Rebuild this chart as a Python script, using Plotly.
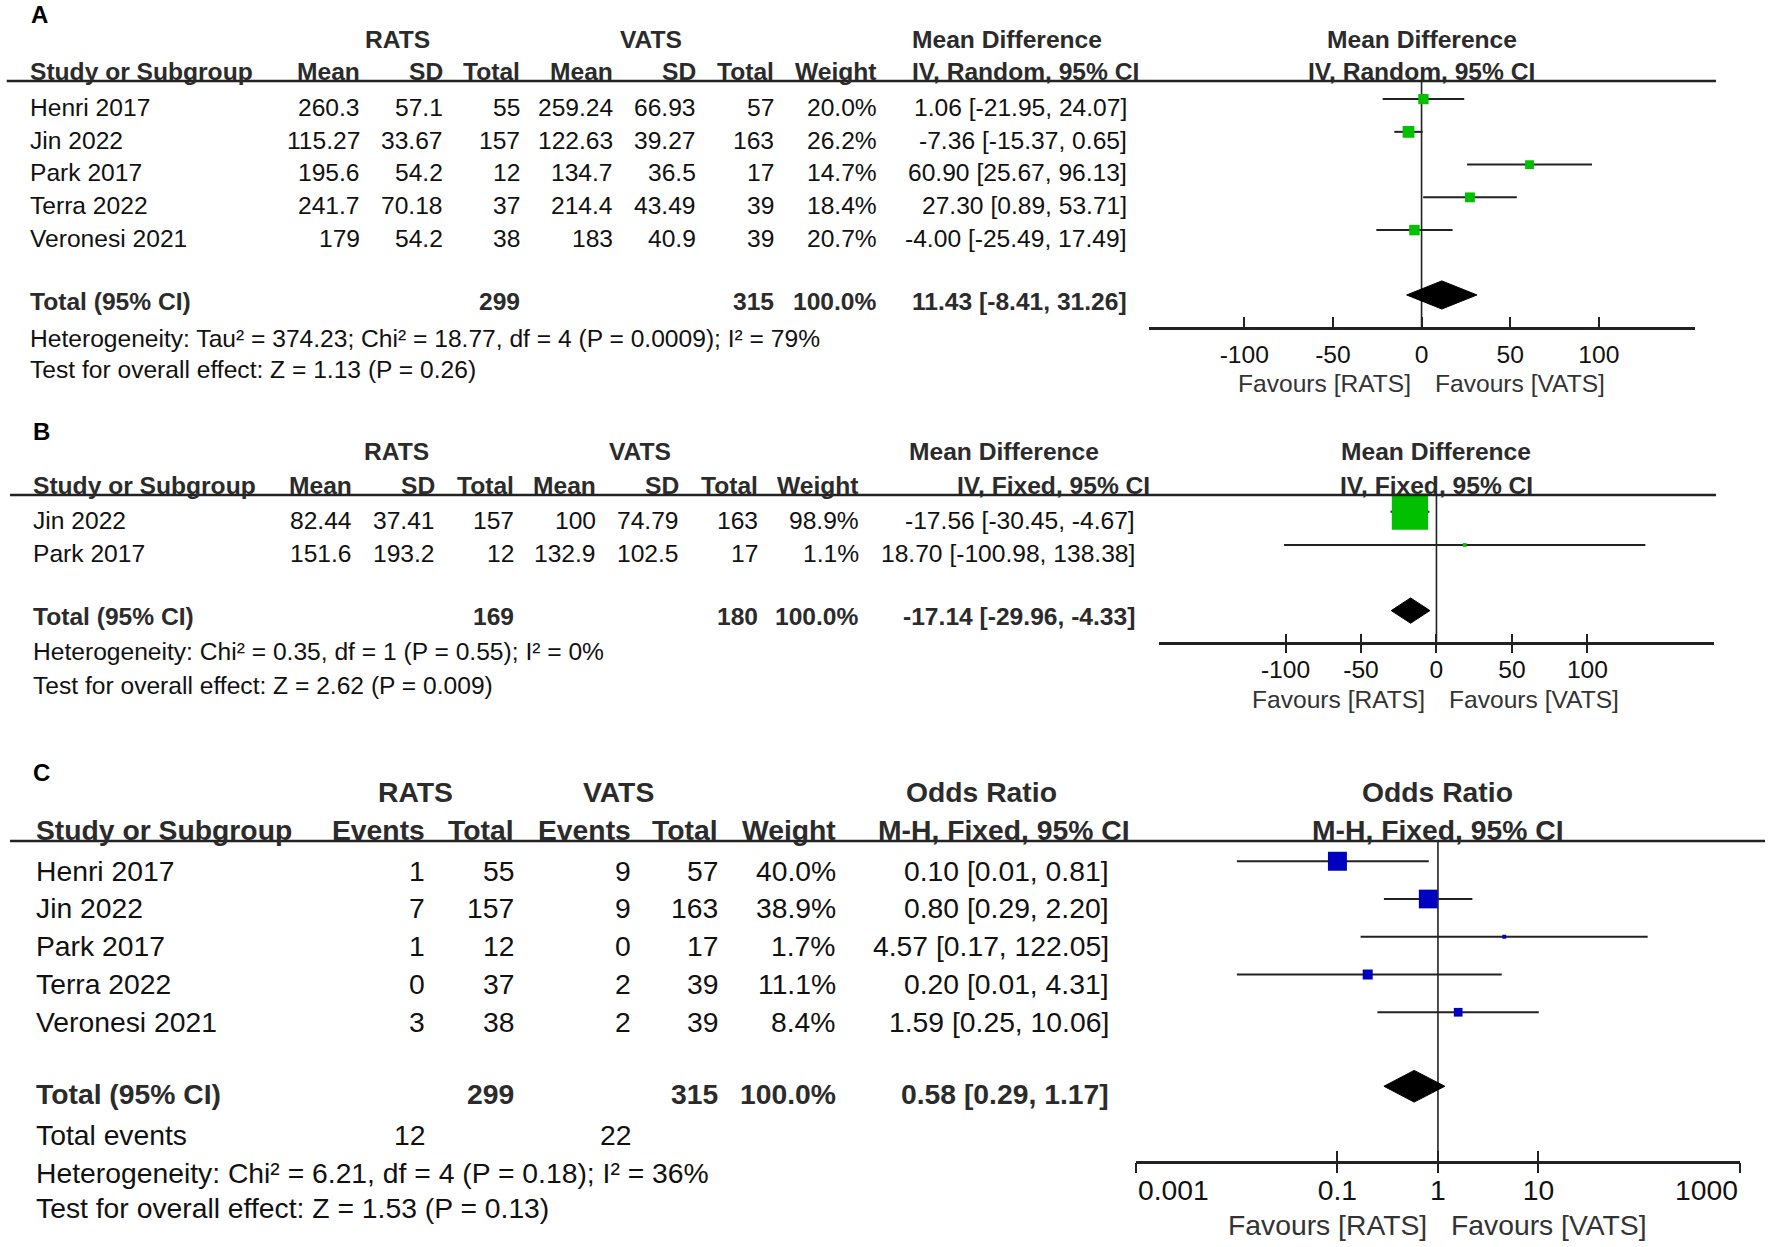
import numpy as np
import plotly.graph_objects as go

W, H = 1772, 1247
FONT = "Liberation Sans, Arial, Helvetica, sans-serif"
INK = "#111111"
BOLD_INK = "#2b2b2b"
FAV = "#333333"
RULE = "#222222"
GREEN = "rgb(0,192,0)"
BLUE = "rgb(0,0,192)"

# ---- A: mean difference, random effects ----
studies_a = ["Henri 2017", "Jin 2022", "Park 2017", "Terra 2022", "Veronesi 2021"]
rats_mean_a = [260.3, 115.27, 195.6, 241.7, 179]
rats_sd_a = [57.1, 33.67, 54.2, 70.18, 54.2]
rats_n_a = [55, 157, 12, 37, 38]
vats_mean_a = [259.24, 122.63, 134.7, 214.4, 183]
vats_sd_a = [66.93, 39.27, 36.5, 43.49, 40.9]
vats_n_a = [57, 163, 17, 39, 39]
weight_a = [20.0, 26.2, 14.7, 18.4, 20.7]
md_a = [1.06, -7.36, 60.90, 27.30, -4.00]
lo_a = [-21.95, -15.37, 25.67, 0.89, -25.49]
hi_a = [24.07, 0.65, 96.13, 53.71, 17.49]
total_a = [11.43, -8.41, 31.26]
total_n_a = [299, 315]
foot_a = ["Heterogeneity: Tau² = 374.23; Chi² = 18.77, df = 4 (P = 0.0009); I² = 79%",
          "Test for overall effect: Z = 1.13 (P = 0.26)"]

# ---- B: mean difference, fixed effect ----
studies_b = ["Jin 2022", "Park 2017"]
rats_mean_b = [82.44, 151.6]
rats_sd_b = [37.41, 193.2]
rats_n_b = [157, 12]
vats_mean_b = [100, 132.9]
vats_sd_b = [74.79, 102.5]
vats_n_b = [163, 17]
weight_b = [98.9, 1.1]
md_b = [-17.56, 18.70]
lo_b = [-30.45, -100.98]
hi_b = [-4.67, 138.38]
total_b = [-17.14, -29.96, -4.33]
total_n_b = [169, 180]
foot_b = ["Heterogeneity: Chi² = 0.35, df = 1 (P = 0.55); I² = 0%",
          "Test for overall effect: Z = 2.62 (P = 0.009)"]

# ---- C: odds ratio, fixed effect ----
studies_c = ["Henri 2017", "Jin 2022", "Park 2017", "Terra 2022", "Veronesi 2021"]
rats_ev_c = [1, 7, 1, 0, 3]
rats_n_c = [55, 157, 12, 37, 38]
vats_ev_c = [9, 9, 0, 2, 2]
vats_n_c = [57, 163, 17, 39, 39]
weight_c = [40.0, 38.9, 1.7, 11.1, 8.4]
or_c = [0.10, 0.80, 4.57, 0.20, 1.59]
lo_c = [0.01, 0.29, 0.17, 0.01, 0.25]
hi_c = [0.81, 2.20, 122.05, 4.31, 10.06]
total_c = [0.58, 0.29, 1.17]
total_n_c = [299, 315]
total_events_c = [12, 22]
foot_c = ["Heterogeneity: Chi² = 6.21, df = 4 (P = 0.18); I² = 36%",
          "Test for overall effect: Z = 1.53 (P = 0.13)"]

tick_md = [-100, -50, 0, 50, 100]
tick_or = [0.001, 0.1, 1, 10, 1000]
tick_or_text = ["0.001", "0.1", "1", "10", "1000"]

DY = -0.25  # squares sit a little above the text row

fig = go.Figure()
axes = {}


def name(a, k):
    return a if k == 1 else f"{a}{k}"


def fnum(v):
    return f"{v:g}"


def fci(e, l, h):
    return f"{e:.2f} [{l:.2f}, {h:.2f}]"


def note(k, x, row, s, anchor="left", bold=False, size=24, xref="paper", xshift=0, color=None):
    fig.add_annotation(x=x / W if xref == "paper" else x, y=row, xref=xref, yref=name("y", k),
                       text=f"<b>{s}</b>" if bold else s, showarrow=False,
                       xanchor=anchor, yanchor="middle", xshift=xshift,
                       font=dict(family=FONT, size=size,
                                 color=color or (BOLD_INK if bold else INK)))


def panel(k, g, letter, studies, cols, groups, heads, plot_heads, est, lo, hi, wts, total,
          foot, colour, ticks, log=False, tick_text=None):
    fs = g["fs"]
    n = len(studies)
    xa, ya = name("x", k), name("y", k)
    axes[name("yaxis", k)] = dict(
        domain=[1 - g["bot"] / H, 1 - g["top"] / H],
        range=[(g["bot"] - g["row0"]) / g["step"], (g["top"] - g["row0"]) / g["step"]],
        visible=False, fixedrange=True)

    # table text
    note(k, g["lx"], g["letter"], letter, bold=True, size=24, color="#000000")
    for label, cx in groups:
        note(k, cx, g["h1"], label, "center", True, fs)
    note(k, g["sx"], g["h2"], "Study or Subgroup", bold=True, size=fs)
    for head, rx, vals, tot in cols:
        note(k, rx, g["h2"], head, "right", True, fs)
        for i, v in enumerate(vals):
            note(k, rx, i, v, "right", size=fs)
        if tot is not None:
            note(k, rx, g["total"], tot, "right", True, fs)
    note(k, g["ci_h"], g["h1"], heads[0], bold=True, size=fs)
    note(k, g["ci_h2"], g["h2"], heads[1], bold=True, size=fs)
    for i, s in enumerate(studies):
        note(k, g["sx"], i, s, size=fs)
        note(k, g["ci_r"], i, fci(est[i], lo[i], hi[i]), "right", size=fs)
    note(k, g["sx"], g["total"], "Total (95% CI)", bold=True, size=fs)
    note(k, g["ci_r"], g["total"], fci(*total), "right", True, fs)
    for row, s in zip(g["foot"], foot):
        note(k, g["sx"], row, s, size=fs)

    fig.add_shape(type="line", xref="paper", yref=ya,
                  x0=g["rule_x"][0] / W, x1=g["rule_x"][1] / W, y0=g["rule"], y1=g["rule"],
                  line=dict(color=RULE, width=2.5))

    # forest plot
    null = 1 if log else 0
    fig.add_trace(go.Scatter(x=[null, null], y=[g["rule"], g["axis"]], mode="lines",
                             line=dict(color=RULE, width=1.6), xaxis=xa, yaxis=ya, hoverinfo="skip"))
    cx, cy = [], []
    for i in range(n):
        cx += [lo[i], hi[i], None]
        cy += [i + DY, i + DY, None]
    fig.add_trace(go.Scatter(x=cx, y=cy, mode="lines", line=dict(color=RULE, width=2),
                             xaxis=xa, yaxis=ya, hoverinfo="skip"))
    fig.add_trace(go.Scatter(x=est, y=[i + DY for i in range(n)], mode="markers",
                             marker=dict(symbol="square", color=colour, opacity=1,
                                         line=dict(width=0),
                                         size=[g["ksq"] * np.sqrt(w) for w in wts]),
                             xaxis=xa, yaxis=ya, hoverinfo="skip"))
    e, l, h = total
    r, d = g["total"] + g["ddy"], g["dia"]
    fig.add_trace(go.Scatter(x=[l, e, h, e, l], y=[r, r - d, r, r + d, r], mode="lines",
                             fill="toself", fillcolor="black", line=dict(color="black", width=1),
                             xaxis=xa, yaxis=ya, hoverinfo="skip"))

    for j, s in enumerate(plot_heads):
        note(k, 0, g["h1"] if j == 0 else g["h2"], s, "center", True, fs, xref=xa)
    note(k, 0, g["fav"], "Favours [RATS]", "right", size=fs, xref=xa, xshift=-9, color=FAV)
    note(k, 0, g["fav"], "Favours [VATS]", "left", size=fs, xref=xa, xshift=11, color=FAV)

    xr = [np.log10(v) for v in g["xr"]] if log else g["xr"]
    pos = 1 - (g["row0"] + g["axis"] * g["step"]) / H
    common = dict(range=xr, type="log" if log else "linear", anchor="free", position=pos,
                  showgrid=False, zeroline=False, tickmode="array", tickvals=ticks,
                  tickwidth=2, tickcolor=RULE, ticklen=g["tlen"], fixedrange=True)
    axes[name("xaxis", k)] = dict(common, domain=[g["x0"] / W, g["x1"] / W],
                                  showline=True, linecolor=RULE, linewidth=2.5, ticks="inside",
                                  ticktext=tick_text or [str(v) for v in ticks],
                                  tickfont=dict(family=FONT, size=fs, color=INK),
                                  ticklabelstandoff=g["standoff"])
    if g["cross"]:
        # second copy of the axis that draws the lower half of the crossing ticks
        axes[name("xaxis", k + 3)] = dict(common, overlaying=xa, ticks="outside",
                                          showticklabels=False, showline=False)
        fig.add_trace(go.Scatter(x=[None], y=[None], xaxis=name("x", k + 3), yaxis=ya,
                                 hoverinfo="skip"))


cfg_a = dict(row0=107.3, step=32.75, top=0, bot=400, fs=24.6, lx=29, letter=-2.82, h1=-2.085,
             h2=-1.087, rule=-0.80, rule_x=(6.7, 1716), total=5.94, foot=[7.05, 8.02], axis=6.73,
             fav=8.43, sx=27.7, ci_r=1128.6, ci_h=909.6, ci_h2=909.6, x0=1148.5, x1=1694.6,
             xr=[-154, 154], ksq=2.3, dia=0.43, ddy=-0.21, tlen=10, cross=False, standoff=4)
cfg_b = dict(row0=520, step=33.3, top=400, bot=735, fs=24.6, lx=31, letter=-2.65, h1=-2.05,
             h2=-1.05, rule=-0.75, rule_x=(10, 1716), total=2.90, foot=[3.955, 4.955], axis=3.70,
             fav=5.38, sx=31.4, ci_r=1137, ci_h=906.6, ci_h2=955, x0=1158.7, x1=1714.2,
             xr=[-184, 184], ksq=3.65, dia=0.38, ddy=-0.18, tlen=8.5, cross=True, standoff=4)
cfg_c = dict(row0=870.7, step=37.75, top=735, bot=1247, fs=28.3, lx=31, letter=-2.6, h1=-2.09,
             h2=-1.08, rule=-0.79, rule_x=(10, 1765), total=5.92, foot=[8.02, 8.94], axis=7.71,
             fav=9.38, sx=34, ci_r=1111, ci_h=903.6, ci_h2=876, x0=1136.4, x1=1739.5,
             xr=[0.001, 1000], ksq=3.0, dia=0.42, ddy=-0.21, tlen=10, cross=True, standoff=3)

panel(1, cfg_a, "A", studies_a,
      [("Mean", 361.5, [fnum(v) for v in rats_mean_a], None),
       ("SD", 444.5, [fnum(v) for v in rats_sd_a], None),
       ("Total", 521.5, [str(v) for v in rats_n_a], str(total_n_a[0])),
       ("Mean", 615, [fnum(v) for v in vats_mean_a], None),
       ("SD", 698, [fnum(v) for v in vats_sd_a], None),
       ("Total", 776, [str(v) for v in vats_n_a], str(total_n_a[1])),
       ("Weight", 878.5, [f"{w:.1f}%" for w in weight_a], "100.0%")],
      [("RATS", 397.5), ("VATS", 650.5)],
      ["Mean Difference", "IV, Random, 95% CI"], ["Mean Difference", "IV, Random, 95% CI"],
      md_a, lo_a, hi_a, weight_a, total_a, foot_a, GREEN, tick_md)

panel(2, cfg_b, "B", studies_b,
      [("Mean", 354, [fnum(v) for v in rats_mean_b], None),
       ("SD", 437, [fnum(v) for v in rats_sd_b], None),
       ("Total", 515.5, [str(v) for v in rats_n_b], str(total_n_b[0])),
       ("Mean", 598, [fnum(v) for v in vats_mean_b], None),
       ("SD", 681, [fnum(v) for v in vats_sd_b], None),
       ("Total", 759.5, [str(v) for v in vats_n_b], str(total_n_b[1])),
       ("Weight", 861, [f"{w:.1f}%" for w in weight_b], "100.0%")],
      [("RATS", 396), ("VATS", 639.6)],
      ["Mean Difference", "IV, Fixed, 95% CI"], ["Mean Difference", "IV, Fixed, 95% CI"],
      md_b, lo_b, hi_b, weight_b, total_b, foot_b, GREEN, tick_md)

panel(3, cfg_c, "C", studies_c,
      [("Events", 427, [str(v) for v in rats_ev_c], None),
       ("Total", 516, [str(v) for v in rats_n_c], str(total_n_c[0])),
       ("Events", 632.5, [str(v) for v in vats_ev_c], None),
       ("Total", 720, [str(v) for v in vats_n_c], str(total_n_c[1])),
       ("Weight", 838, [f"{w:.1f}%" for w in weight_c], "100.0%")],
      [("RATS", 415), ("VATS", 618.8)],
      ["Odds Ratio", "M-H, Fixed, 95% CI"], ["Odds Ratio", "M-H, Fixed, 95% CI"],
      or_c, lo_c, hi_c, weight_c, total_c, foot_c, BLUE, tick_or, log=True,
      tick_text=[""] + tick_or_text[1:-1] + [""])

# total events row and the end labels of the log axis in C
note(3, 34, 7.0, "Total events", size=28.3)
note(3, 427, 7.0, str(total_events_c[0]), "right", size=28.3)
note(3, 632.5, 7.0, str(total_events_c[1]), "right", size=28.3)
note(3, np.log10(tick_or[0]), 8.46, tick_or_text[0], "left", size=28.3, xref="x3")
note(3, np.log10(tick_or[-1]), 8.46, tick_or_text[-1], "right", size=28.3, xref="x3")

fig.update_layout(width=W, height=H, margin=dict(l=0, r=0, t=0, b=0),
                  paper_bgcolor="white", plot_bgcolor="rgba(0,0,0,0)", showlegend=False,
                  font=dict(family=FONT, color=INK), **axes)

fig.write_html("out.html", config={"displayModeBar": False},
               post_script="document.body.style.margin='0';")
